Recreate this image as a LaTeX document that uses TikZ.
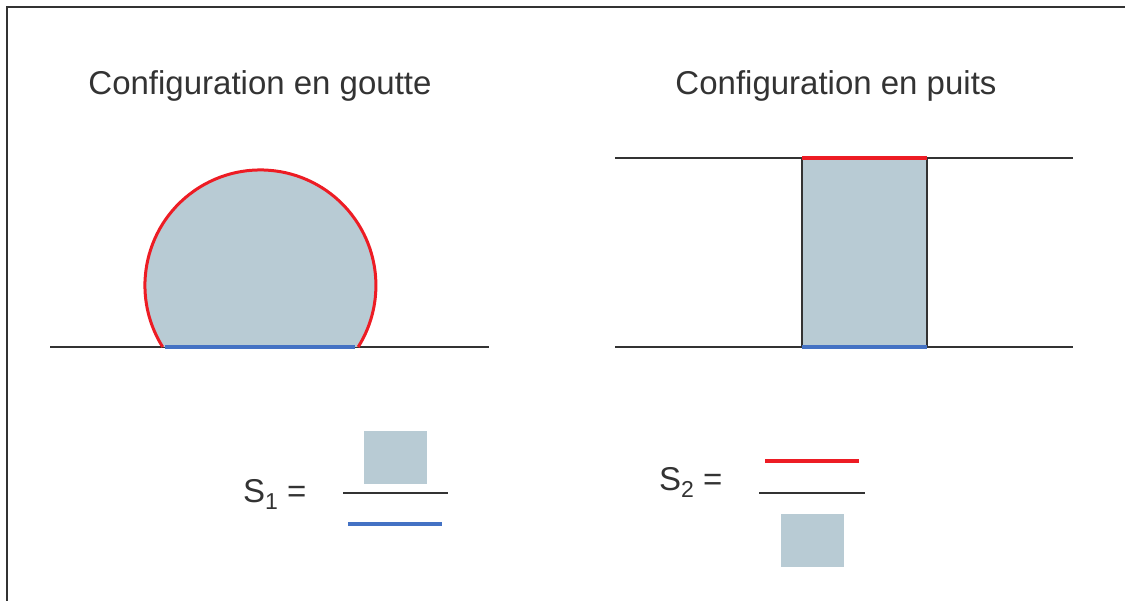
\documentclass[tikz,border=0pt]{standalone}
\usepackage{fontspec}
\setmainfont{Liberation Sans}
\definecolor{gel}{RGB}{184,203,212}
\definecolor{rouge}{RGB}{237,28,36}
\definecolor{bleu}{RGB}{68,114,196}
\definecolor{encre}{RGB}{51,51,51}
\tikzset{
  titre/.style={inner sep=0pt, anchor=base, text=encre, font=\fontsize{33}{36}\selectfont},
  formule/.style={inner sep=0pt, anchor=base west, text=encre, font=\fontsize{33}{36}\selectfont},
  sol/.style={draw=encre, line width=1.2pt},
  trait/.style={line width=3.2pt},
  barre/.style={draw=encre, line width=1.4pt},
}
\newcommand{\indice}[1]{\raisebox{-7pt}{\fontsize{23}{24}\selectfont #1}}
\begin{document}
\begin{tikzpicture}[x=1pt,y=-1pt]
\useasboundingbox (0,0) rectangle (1125,601);
% frame
\draw[encre, line width=2.2pt] (7,601) -- (7,7) -- (1125,7);
% titles
\node[titre] (t1) at (260,95) {Configuration en goutte};
\node[titre] (t2) at (836,95) {Configuration en puits};
% drop
\draw[sol] (50,347) -- (489,347);
\fill[gel] (162.7,347) arc[start angle=147.8, end angle=392.2, radius=115.5] -- cycle;
\draw[rouge, line width=3pt] (162.7,347) arc[start angle=147.8, end angle=392.2, radius=115.5];
\draw[bleu, trait] (165,347) -- (355,347);
% well
\draw[sol] (615,158) -- (1073,158);
\draw[sol] (615,347) -- (1073,347);
\filldraw[fill=gel, draw=encre, line width=1.2pt] (802,158) rectangle (927,347);
\draw[rouge, trait] (802,158) -- (927,158);
\draw[bleu, trait] (802,347) -- (927,347);
% S1
\node[formule] (s1) at (243,502) {S\indice{1} =};
\fill[gel] (364,431) rectangle (427,484);
\draw[barre] (343,493) -- (448,493);
\draw[bleu, trait] (348,524) -- (442,524);
% S2
\node[formule] (s2) at (659,490) {S\indice{2} =};
\draw[rouge, trait] (765,461) -- (859,461);
\draw[barre] (759,493) -- (865,493);
\fill[gel] (781,514) rectangle (844,567);
\end{tikzpicture}
\end{document}
